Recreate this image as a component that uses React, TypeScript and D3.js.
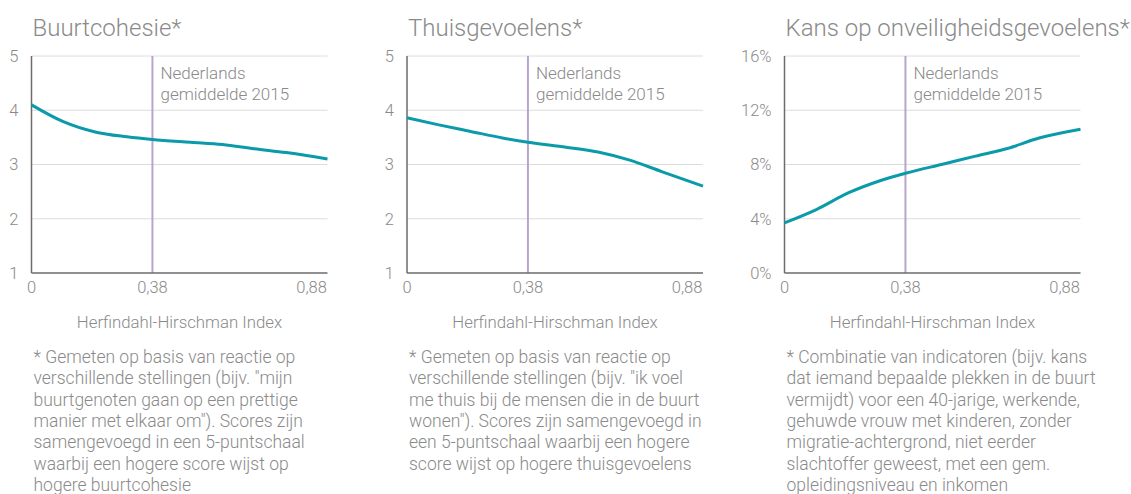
import React from 'react';
import { scaleLinear, line, curveMonotoneX } from 'd3';

const hhi = [0, 0.1, 0.2, 0.3, 0.38, 0.5, 0.6, 0.7, 0.8, 0.93];
const xTicks = [0, 0.38, 0.88];
const avgHhi = 0.38;

const cohesie = [4.1, 3.79, 3.6, 3.51, 3.46, 3.41, 3.37, 3.29, 3.22, 3.1];
const thuis = [3.86, 3.73, 3.61, 3.49, 3.41, 3.32, 3.23, 3.08, 2.87, 2.6];
const onveilig = [3.7, 4.68, 5.9, 6.8, 7.35, 8.04, 8.62, 9.18, 9.95, 10.6];

const scoreTicks = [1, 2, 3, 4, 5];
const pctTicks = [0, 4, 8, 12, 16];

const panels = [
    {
        title: 'Buurtcohesie*',
        values: cohesie,
        yDomain: [1, 5],
        yTicks: scoreTicks,
        fmt: (v: number) => `${v}`,
        note: [
            '* Gemeten op basis van reactie op',
            'verschillende stellingen (bijv. "mijn',
            'buurtgenoten gaan op een prettige',
            'manier met elkaar om"). Scores zijn',
            'samengevoegd in een 5-puntschaal',
            'waarbij een hogere score wijst op',
            'hogere buurtcohesie',
        ],
    },
    {
        title: 'Thuisgevoelens*',
        values: thuis,
        yDomain: [1, 5],
        yTicks: scoreTicks,
        fmt: (v: number) => `${v}`,
        note: [
            '* Gemeten op basis van reactie op',
            'verschillende stellingen (bijv. "ik voel',
            'me thuis bij de mensen die in de buurt',
            'wonen"). Scores zijn samengevoegd in',
            'een 5-puntschaal waarbij een hogere',
            'score wijst op hogere thuisgevoelens',
        ],
    },
    {
        title: 'Kans op onveiligheidsgevoelens*',
        values: onveilig,
        yDomain: [0, 16],
        yTicks: pctTicks,
        fmt: (v: number) => `${v}%`,
        note: [
            '* Combinatie van indicatoren (bijv. kans',
            'dat iemand bepaalde plekken in de buurt',
            'vermijdt) voor een 40-jarige, werkende,',
            'gehuwde vrouw met kinderen, zonder',
            'migratie-achtergrond, niet eerder',
            'slachtoffer geweest, met een gem.',
            'opleidingsniveau en inkomen',
        ],
    },
];

const FONT = 'Roboto, sans-serif';
const TEXT = '#8a8a8a';
const panelLefts = [31.5, 407, 784.5];
const plotW = 296;
const top = 56;
const bottom = 273;

const Panel = ({ p, left }) => {
    const x = scaleLinear().domain([0, 0.93]).range([left, left + plotW]);
    const y = scaleLinear().domain(p.yDomain).range([bottom, top]);
    const path = line<number>()
        .x((_, i) => x(hhi[i]))
        .y(d => y(d))
        .curve(curveMonotoneX)(p.values);

    return (
        <g fontFamily={FONT} fontWeight={300} fill={TEXT}>
            <text x={left + 1} y={36} fontSize={24}>{p.title}</text>

            {p.yTicks.map(t => (
                <g key={t}>
                    {t !== p.yDomain[0] && (
                        <line x1={left} x2={left + plotW} y1={y(t)} y2={y(t)} stroke="#dcdcdc" strokeWidth={1} />
                    )}
                    <text x={left - 13} y={y(t)} dy="0.36em" textAnchor="end" fontSize={16.5}>{p.fmt(t)}</text>
                </g>
            ))}

            <line x1={x(avgHhi)} x2={x(avgHhi)} y1={top} y2={bottom} stroke="#b9a3cf" strokeWidth={2} />
            <text x={x(avgHhi) + 8} y={79} fontSize={17}>Nederlands</text>
            <text x={x(avgHhi) + 8} y={100} fontSize={17}>gemiddelde 2015</text>

            <line x1={left} x2={left} y1={top} y2={bottom} stroke="#6b6b6b" strokeWidth={1.5} />
            <line x1={left} x2={left + plotW} y1={bottom} y2={bottom} stroke="#6b6b6b" strokeWidth={1.5} />

            {xTicks.map(t => (
                <text key={t} x={x(t)} y={293} textAnchor="middle" fontSize={16.5}>
                    {String(t).replace('.', ',')}
                </text>
            ))}

            <path d={path} fill="none" stroke="#0a9aaa" strokeWidth={3} />

            <text x={left + plotW / 2} y={328} textAnchor="middle" fontSize={16.8}>Herfindahl-Hirschman Index</text>

            {p.note.map((l, i) => (
                <text key={i} x={left + 2} y={363 + i * 21.3} fontSize={17.5}>{l}</text>
            ))}
        </g>
    );
};

const App = () => (
    <svg width={1131} height={494} style={{ position: 'absolute', left: 0, top: 0, background: '#fff' }}>
        {panels.map((p, i) => <Panel key={p.title} p={p} left={panelLefts[i]} />)}
    </svg>
);

export default App;
